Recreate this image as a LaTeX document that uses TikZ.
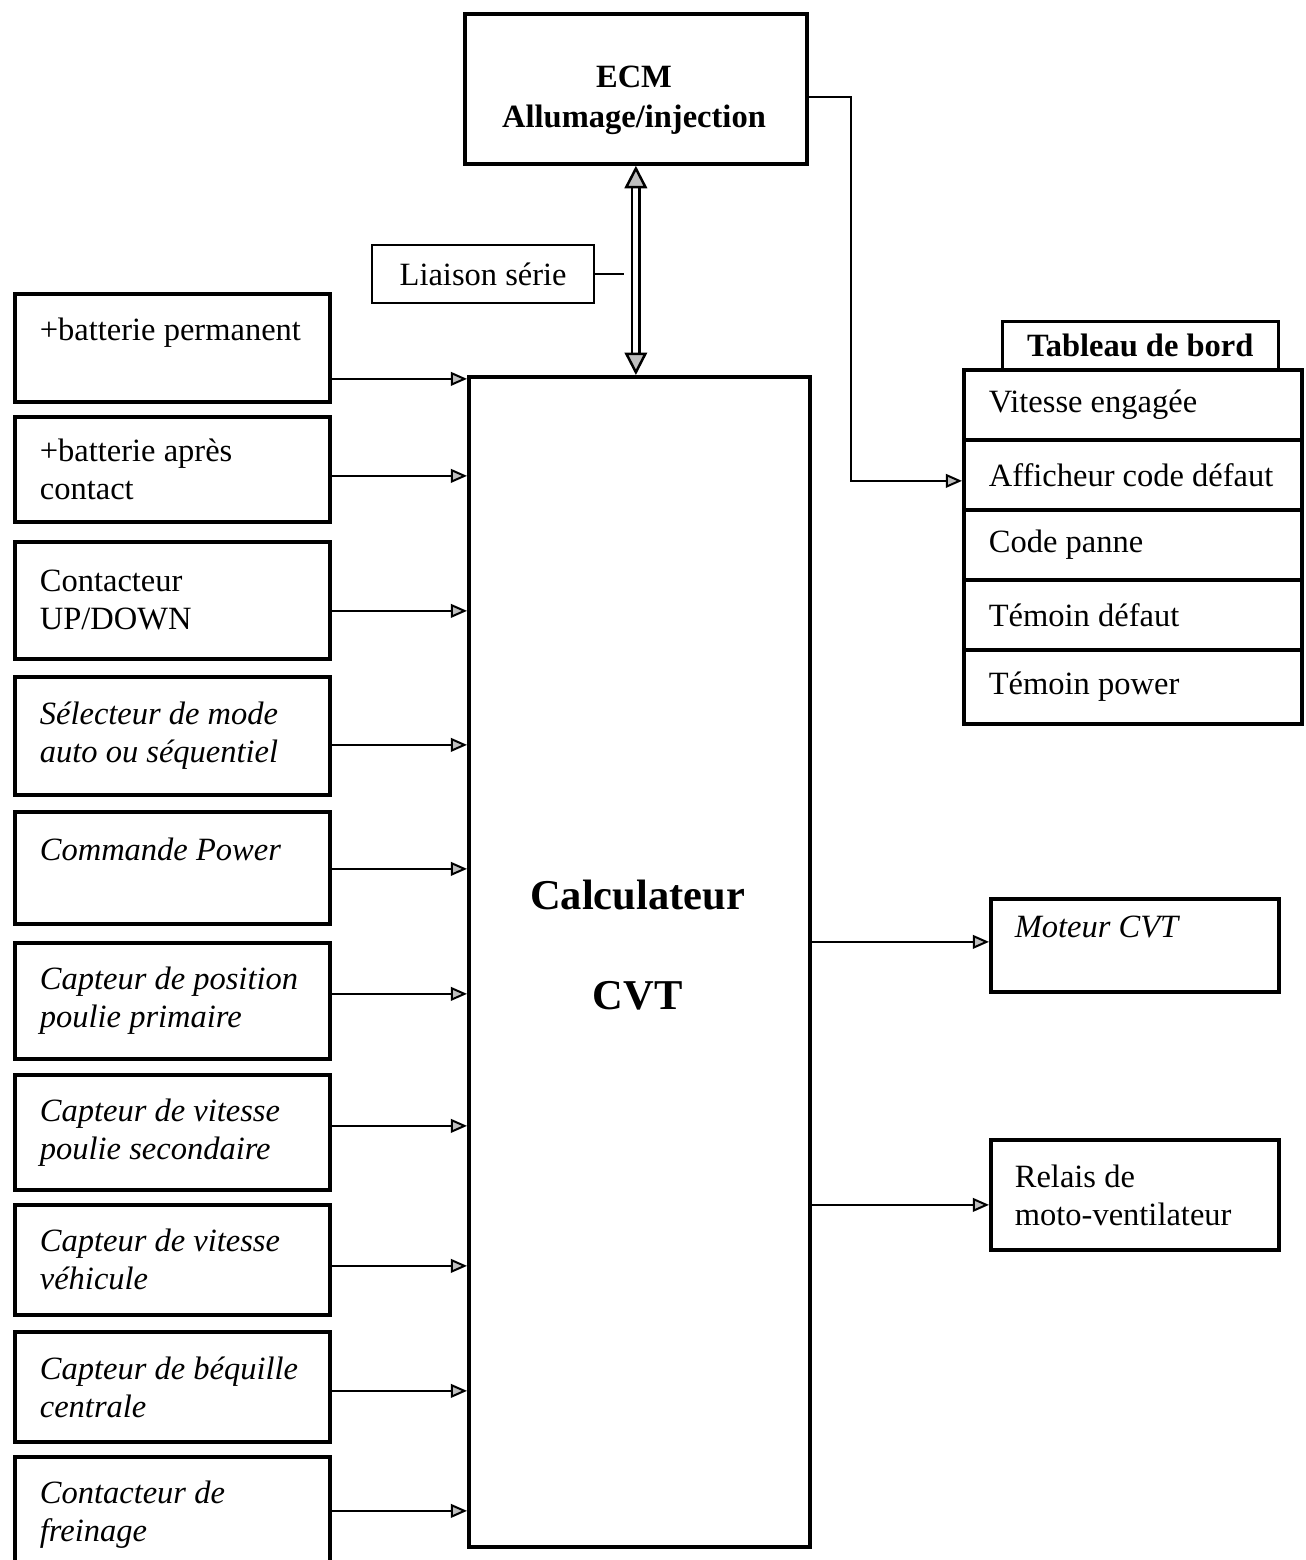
\documentclass[tikz,border=0pt]{standalone}
\usepackage{fontspec}
\setmainfont{Liberation Serif}
\usetikzlibrary{arrows.meta,calc}
\tikzset{
  txt/.style={font=\fontsize{13}{15.2}\selectfont},
  ittxt/.style={font=\fontsize{13}{15.2}\selectfont\itshape},
  box/.style={draw, line width=1.5pt, rectangle, anchor=north west, inner ysep=0pt, align=flush left, txt},
  lbox/.style={box, inner xsep={25*0.4pt}, text width={265*0.4pt}},
  rowbox/.style={box, inner xsep={25*0.4pt}, text width={288*0.4pt}, minimum height={70*0.4pt}},
  rbox/.style={box, inner xsep={24*0.4pt}, text width={240*0.4pt}},
  arr/.style={line width=1pt, -{Triangle[length=6.5pt,width=5.5pt,fill=gray!50,line width=0.8pt]}},
  dbl/.style={double, double distance=2pt, line width=1pt,
     {Triangle[length=9pt,width=9pt,fill=gray!50]}-{Triangle[length=9pt,width=9pt,fill=gray!50]}},
}
\begin{document}
\begin{tikzpicture}[x=0.4pt,y=-0.4pt]
\useasboundingbox (0,0) rectangle (1306,1560);

% ECM
\node[box, minimum width={342*0.4pt}, minimum height={150*0.4pt}] (ecm) at (463,12) {};
\node[font=\fontsize{13}{16}\selectfont\bfseries, align=center] (ecmtext) at (634,100) {ECM\\Allumage/injection};

% Calculateur
\node[box, minimum width={341*0.4pt}, minimum height={1170*0.4pt}] (calc) at (467,375) {};
\node[font=\fontsize{17}{40}\selectfont\bfseries, align=center] (calctext) at (637.5,945) {Calculateur\\CVT};

% Liaison serie
\node[draw, line width=0.9pt, anchor=north west, minimum width={222*0.4pt}, minimum height={58*0.4pt}, txt] (liaison) at (371,244) {Liaison série};
\draw[line width=0.9pt] (liaison.east) -- ++(29,0);
\draw[dbl] (ecm.south) -- (ecm.south |- calc.north);

% left inputs
\node[lbox, minimum height={108*0.4pt}] (b1) at (13,292) {+batterie permanent\\\mbox{}};
\node[lbox, minimum height={105*0.4pt}] (b2) at (13,415) {+batterie après\\contact};
\node[lbox, minimum height={117*0.4pt}] (b3) at (13,540) {Contacteur\\UP/DOWN};
\node[lbox, ittxt, minimum height={118*0.4pt}] (b4) at (13,675) {Sélecteur de mode\\auto ou séquentiel};
\node[lbox, ittxt, minimum height={112*0.4pt}] (b5) at (13,810) {Commande Power\\\mbox{}};
\node[lbox, ittxt, minimum height={116*0.4pt}] (b6) at (13,941) {Capteur de position\\poulie primaire};
\node[lbox, ittxt, minimum height={115*0.4pt}] (b7) at (13,1073) {Capteur de vitesse\\poulie secondaire};
\node[lbox, ittxt, minimum height={110*0.4pt}] (b8) at (13,1203) {Capteur de vitesse\\véhicule};
\node[lbox, ittxt, minimum height={110*0.4pt}] (b9) at (13,1330) {Capteur de béquille\\centrale};
\node[lbox, ittxt, minimum height={115*0.4pt}] (b10) at (13,1455) {Contacteur de\\freinage};

\foreach \i/\dy in {1/31,2/6.5,3/10.5,4/9,5/1,6/-7,7/-6.5,8/6,9/4,10/-3.5}{
  \draw[arr] ($(b\i.east)+(0,\dy)$) coordinate (s) -- (s -| calc.west);
}

% Tableau de bord
\node[rowbox] (r1) at (962,368) {Vitesse engagée};
\node[rowbox] (r2) at (962,438) {Afficheur code défaut};
\node[rowbox] (r3) at (962,508) {Code panne};
\node[rowbox] (r4) at (962,578) {Témoin défaut};
\node[rowbox, minimum height={74*0.4pt}] (r5) at (962,648) {Témoin power};
\node[draw, line width=1pt, anchor=north west, minimum width={276*0.4pt}, minimum height={48*0.4pt}, font=\fontsize{13}{15.2}\selectfont\bfseries] (tab) at (1001,320) {Tableau de bord};

\draw[arr] ($(ecm.east)+(0,8)$) -| ($(r2.west)+(-111,6)$) -- ($(r2.west)+(0,6)$);

% right outputs
\node[rbox, ittxt, minimum height={93*0.4pt}] (mot) at (989,897) {Moteur CVT\\\mbox{}};
\node[rbox, minimum height={110*0.4pt}] (rel) at (989,1138) {Relais de\\moto-ventilateur};
\draw[arr] ($(calc.east)+(0,-20)$) coordinate (s) -- (s -| mot.west);
\draw[arr] ($(calc.east)+(0,243)$) coordinate (s) -- (s -| rel.west);
\end{tikzpicture}
\end{document}
